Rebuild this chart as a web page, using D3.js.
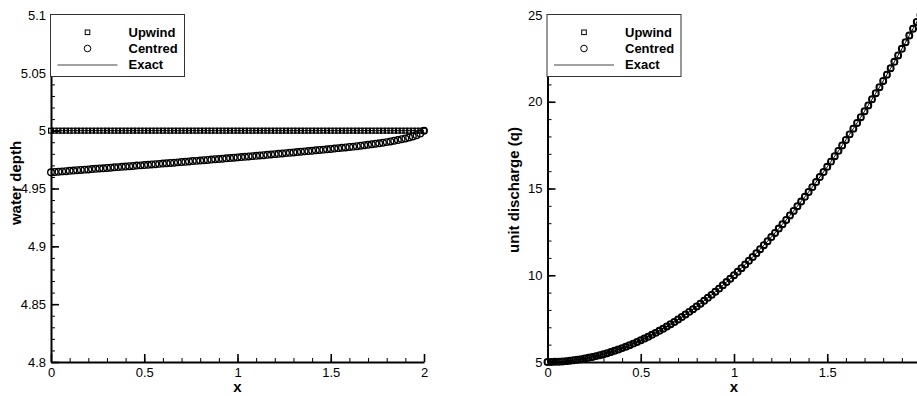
<!DOCTYPE html>
<html>
<head>
<meta charset="utf-8">
<script src="https://cdn.jsdelivr.net/npm/d3@7"></script>
<style>
  body { margin: 0; background: #fff; }
  svg { display: block; font-family: "Liberation Sans", Arial, Helvetica, sans-serif; }
</style>
</head>
<body>
<div id="chart"></div>
<script>
// grid points along the channel
var xGrid = [
  0.00, 0.02, 0.04, 0.06, 0.08, 0.10, 0.12, 0.14, 0.16, 0.18,
  0.20, 0.22, 0.24, 0.26, 0.28, 0.30, 0.32, 0.34, 0.36, 0.38,
  0.40, 0.42, 0.44, 0.46, 0.48, 0.50, 0.52, 0.54, 0.56, 0.58,
  0.60, 0.62, 0.64, 0.66, 0.68, 0.70, 0.72, 0.74, 0.76, 0.78,
  0.80, 0.82, 0.84, 0.86, 0.88, 0.90, 0.92, 0.94, 0.96, 0.98,
  1.00, 1.02, 1.04, 1.06, 1.08, 1.10, 1.12, 1.14, 1.16, 1.18,
  1.20, 1.22, 1.24, 1.26, 1.28, 1.30, 1.32, 1.34, 1.36, 1.38,
  1.40, 1.42, 1.44, 1.46, 1.48, 1.50, 1.52, 1.54, 1.56, 1.58,
  1.60, 1.62, 1.64, 1.66, 1.68, 1.70, 1.72, 1.74, 1.76, 1.78,
  1.80, 1.82, 1.84, 1.86, 1.88, 1.90, 1.92, 1.94, 1.96, 1.98,
  2.00
];

// water depth - upwind scheme (flat at 5)
var depthUpwind = [
  5, 5, 5, 5, 5, 5, 5, 5, 5, 5, 5, 5, 5, 5, 5, 5, 5, 5, 5, 5,
  5, 5, 5, 5, 5, 5, 5, 5, 5, 5, 5, 5, 5, 5, 5, 5, 5, 5, 5, 5,
  5, 5, 5, 5, 5, 5, 5, 5, 5, 5, 5, 5, 5, 5, 5, 5, 5, 5, 5, 5,
  5, 5, 5, 5, 5, 5, 5, 5, 5, 5, 5, 5, 5, 5, 5, 5, 5, 5, 5, 5,
  5, 5, 5, 5, 5, 5, 5, 5, 5, 5, 5, 5, 5, 5, 5, 5, 5, 5, 5, 5,
  5
];

// water depth - centred scheme
var depthCentred = [
  4.9640, 4.9643, 4.9645, 4.9648, 4.9650, 4.9653, 4.9655, 4.9658, 4.9660, 4.9663,
  4.9665, 4.9668, 4.9670, 4.9673, 4.9675, 4.9678, 4.9680, 4.9683, 4.9685, 4.9688,
  4.9690, 4.9693, 4.9695, 4.9698, 4.9700, 4.9703, 4.9705, 4.9708, 4.9710, 4.9713,
  4.9716, 4.9718, 4.9721, 4.9723, 4.9726, 4.9729, 4.9731, 4.9734, 4.9737, 4.9739,
  4.9742, 4.9745, 4.9747, 4.9750, 4.9753, 4.9755, 4.9758, 4.9761, 4.9763, 4.9766,
  4.9769, 4.9772, 4.9774, 4.9777, 4.9780, 4.9783, 4.9786, 4.9788, 4.9791, 4.9794,
  4.9797, 4.9800, 4.9803, 4.9806, 4.9809, 4.9812, 4.9815, 4.9818, 4.9821, 4.9824,
  4.9827, 4.9830, 4.9833, 4.9836, 4.9839, 4.9842, 4.9845, 4.9849, 4.9852, 4.9855,
  4.9859, 4.9862, 4.9866, 4.9870, 4.9874, 4.9878, 4.9882, 4.9887, 4.9891, 4.9896,
  4.9901, 4.9907, 4.9913, 4.9919, 4.9926, 4.9933, 4.9941, 4.9950, 4.9961, 4.9975,
  5.0000
];

// exact depth
var depthExact = [5, 5];
var exactDepthX = [0, 2];

// unit discharge - upwind, centred and exact all sit on the same curve
var discharge = [
  5.00, 5.00, 5.01, 5.02, 5.03, 5.05, 5.07, 5.10, 5.13, 5.16,
  5.20, 5.24, 5.29, 5.34, 5.39, 5.45, 5.51, 5.58, 5.65, 5.72,
  5.80, 5.88, 5.97, 6.06, 6.15, 6.25, 6.35, 6.46, 6.57, 6.68,
  6.80, 6.92, 7.05, 7.18, 7.31, 7.45, 7.59, 7.74, 7.89, 8.04,
  8.20, 8.36, 8.53, 8.70, 8.87, 9.05, 9.23, 9.42, 9.61, 9.80,
  10.00, 10.20, 10.41, 10.62, 10.83, 11.05, 11.27, 11.50, 11.73, 11.96,
  12.20, 12.44, 12.69, 12.94, 13.19, 13.45, 13.71, 13.98, 14.25, 14.52,
  14.80, 15.08, 15.37, 15.66, 15.95, 16.25, 16.55, 16.86, 17.17, 17.48,
  17.80, 18.12, 18.45, 18.78, 19.11, 19.45, 19.79, 20.14, 20.49, 20.84,
  21.20, 21.56, 21.93, 22.30, 22.67, 23.05, 23.43, 23.82, 24.21, 24.60,
  25.00
];

// tick values and labels
var xTicks = [0, 0.5, 1, 1.5, 2];
var xTickLabels = ["0", "0.5", "1", "1.5", "2"];
var depthTicks = [4.8, 4.85, 4.9, 4.95, 5, 5.05, 5.1];
var depthTickLabels = ["4.8", "4.85", "4.9", "4.95", "5", "5.05", "5.1"];
var qTicks = [5, 10, 15, 20, 25];
var qTickLabels = ["5", "10", "15", "20", "25"];

var legendNames = ["Upwind", "Centred", "Exact"];

var svgWidth = 917;
var svgHeight = 396;

var svg = d3.select("#chart")
    .append("svg")
    .attr("width", svgWidth)
    .attr("height", svgHeight);

var plotTop = 15, plotBottom = 362;

function drawPanel(p) {
    var g = svg.append("g");

    var xScale = d3.scaleLinear().domain([0, 2]).range([p.left, p.left + 373]);
    var yScale = d3.scaleLinear().domain(p.yDomain).range([plotBottom, plotTop]);

    // minor ticks first
    var xMinor = g.append("g")
        .attr("transform", "translate(0," + plotBottom + ")")
        .call(d3.axisBottom(xScale).tickValues(d3.range(0, 2.001, 0.1))
            .tickSizeInner(-4).tickSizeOuter(0).tickFormat(""));
    xMinor.select(".domain").remove();
    xMinor.selectAll("line").attr("stroke-width", 1);

    var yMinor = g.append("g")
        .attr("transform", "translate(" + p.left + ",0)")
        .call(d3.axisLeft(yScale).tickValues(p.yMinor)
            .tickSizeInner(-4).tickSizeOuter(0).tickFormat(""));
    yMinor.select(".domain").remove();
    yMinor.selectAll("line").attr("stroke-width", 1);

    // major ticks with labels
    var xAxis = g.append("g")
        .attr("transform", "translate(0," + plotBottom + ")")
        .call(d3.axisBottom(xScale).tickValues(xTicks)
            .tickSizeInner(-8).tickSizeOuter(0).tickPadding(6)
            .tickFormat(function(d, i) { return xTickLabels[i]; }));

    var yAxis = g.append("g")
        .attr("transform", "translate(" + p.left + ",0)")
        .call(d3.axisLeft(yScale).tickValues(p.yTicks)
            .tickSizeInner(-8).tickSizeOuter(0).tickPadding(5)
            .tickFormat(function(d, i) { return p.yLabels[i]; }));

    [xAxis, yAxis].forEach(function(ax) {
        ax.select(".domain").attr("stroke-width", 2);
        ax.selectAll(".tick line").attr("stroke-width", 1.6);
        ax.selectAll(".tick text")
            .attr("font-size", "13px")
            .attr("font-family", "Liberation Sans, Arial, sans-serif")
            .attr("fill", "#000");
    });

    // exact line
    var line = d3.line()
        .x(function(d) { return xScale(d[0]); })
        .y(function(d) { return yScale(d[1]); });

    g.append("path")
        .datum(d3.zip(p.exactX, p.exact))
        .attr("fill", "none")
        .attr("stroke", "#000")
        .attr("stroke-width", 1)
        .attr("d", line);

    // upwind squares
    g.append("g").selectAll("rect")
        .data(d3.zip(xGrid, p.upwind))
        .enter()
        .append("rect")
        .attr("x", function(d) { return xScale(d[0]) - 2.4; })
        .attr("y", function(d) { return yScale(d[1]) - 2.4; })
        .attr("width", 4.8)
        .attr("height", 4.8)
        .attr("fill", "none")
        .attr("stroke", "#000")
        .attr("stroke-width", 1.2);

    // centred circles
    g.append("g").selectAll("circle")
        .data(d3.zip(xGrid, p.centred))
        .enter()
        .append("circle")
        .attr("cx", function(d) { return xScale(d[0]); })
        .attr("cy", function(d) { return yScale(d[1]); })
        .attr("r", 3.3)
        .attr("fill", "none")
        .attr("stroke", "#000")
        .attr("stroke-width", 1.35);

    // axis titles
    g.append("text")
        .attr("transform", "translate(" + p.yTitleX + "," + p.yTitleY + ") rotate(-90)")
        .attr("text-anchor", "middle")
        .attr("font-size", "15px")
        .attr("font-weight", "bold")
        .text(p.yTitle);

    g.append("text")
        .attr("x", xScale(1))
        .attr("y", 392)
        .attr("text-anchor", "middle")
        .attr("font-size", "15px")
        .attr("font-weight", "bold")
        .text("x");

    // legend
    var lx = p.left - 0.5;
    var legend = g.append("g");
    legend.append("rect")
        .attr("x", lx)
        .attr("y", 14.5)
        .attr("width", 134)
        .attr("height", 62)
        .attr("fill", "#fff")
        .attr("stroke", "#333")
        .attr("stroke-width", 1);

    legend.append("rect")
        .attr("x", lx + 37 - 2.3)
        .attr("y", 32.3 - 2.3)
        .attr("width", 4.6)
        .attr("height", 4.6)
        .attr("fill", "none")
        .attr("stroke", "#000")
        .attr("stroke-width", 1);

    legend.append("circle")
        .attr("cx", lx + 37)
        .attr("cy", 48.5)
        .attr("r", 3.3)
        .attr("fill", "none")
        .attr("stroke", "#000");

    legend.append("line")
        .attr("x1", lx + 7)
        .attr("x2", lx + 67)
        .attr("y1", 65)
        .attr("y2", 65)
        .attr("stroke", "#444")
        .attr("stroke-width", 1);

    legend.selectAll("text.leg")
        .data(legendNames)
        .enter()
        .append("text")
        .attr("class", "leg")
        .attr("x", lx + 78)
        .attr("y", function(d, i) { return 36.5 + i * 16; })
        .attr("font-size", "13px")
        .attr("font-weight", "bold")
        .text(function(d) { return d; });
}

drawPanel({
    left: 51,
    yDomain: [4.8, 5.1],
    yTicks: depthTicks,
    yLabels: depthTickLabels,
    yMinor: d3.range(4.8, 5.1001, 0.01),
    upwind: depthUpwind,
    centred: depthCentred,
    exact: depthExact,
    exactX: exactDepthX,
    yTitle: "water depth",
    yTitleX: 21,
    yTitleY: 183
});

drawPanel({
    left: 547.5,
    yDomain: [5, 25],
    yTicks: qTicks,
    yLabels: qTickLabels,
    yMinor: d3.range(5, 25.001, 1),
    upwind: discharge,
    centred: discharge,
    exact: discharge,
    exactX: xGrid,
    yTitle: "unit discharge (q)",
    yTitleX: 519,
    yTitleY: 190
});
</script>
</body>
</html>
